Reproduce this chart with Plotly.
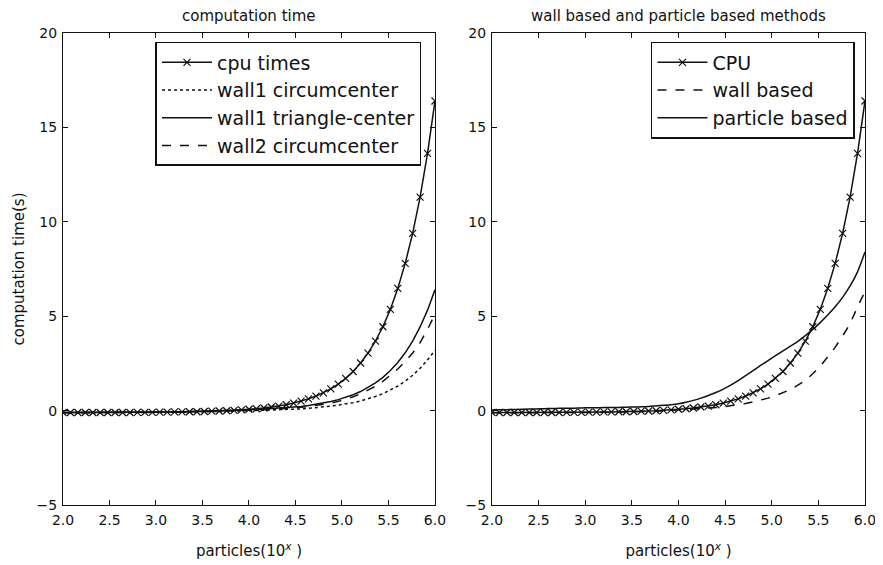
import plotly.graph_objects as go

# x axis: particles (10^x)
particles_exp = [2.00, 2.08, 2.16, 2.24, 2.32, 2.40, 2.48, 2.56, 2.64, 2.72, 2.80,
                 2.88, 2.96, 3.04, 3.12, 3.20, 3.28, 3.36, 3.44, 3.52,
                 3.60, 3.68, 3.76, 3.84, 3.92, 4.00, 4.08, 4.16, 4.24, 4.32,
                 4.40, 4.48, 4.56, 4.64, 4.72, 4.80, 4.88, 4.96, 5.04, 5.12,
                 5.20, 5.28, 5.36, 5.44, 5.52, 5.60, 5.68, 5.76, 5.84, 5.92, 6.00]

cpu_times = [-0.10, -0.10, -0.10, -0.10, -0.10, -0.10, -0.10, -0.10, -0.10, -0.10, -0.09,
             -0.09, -0.09, -0.08, -0.08, -0.07, -0.07, -0.06, -0.06, -0.05,
             -0.03, -0.02, -0.01, 0.01, 0.04, 0.07, 0.10, 0.14, 0.19, 0.24,
             0.31, 0.40, 0.50, 0.62, 0.77, 0.94, 1.15, 1.40, 1.71, 2.07,
             2.52, 3.04, 3.68, 4.44, 5.36, 6.47, 7.80, 9.39, 11.31, 13.62, 16.40]

wall1_circumcenter = [-0.12, -0.12, -0.12, -0.12, -0.12, -0.11, -0.11, -0.11, -0.11, -0.10, -0.10,
                      -0.10, -0.09, -0.09, -0.09, -0.08, -0.08, -0.07, -0.07, -0.06,
                      -0.06, -0.05, -0.04, -0.03, -0.02, -0.01, 0.00, 0.01, 0.02, 0.03,
                      0.05, 0.07, 0.09, 0.12, 0.15, 0.19, 0.24, 0.29, 0.35, 0.42,
                      0.51, 0.62, 0.75, 0.90, 1.08, 1.30, 1.56, 1.87, 2.24, 2.68, 3.20]

wall1_triangle_center = [-0.10, -0.10, -0.10, -0.10, -0.10, -0.10, -0.10, -0.10, -0.10, -0.09, -0.09,
                         -0.09, -0.08, -0.08, -0.07, -0.07, -0.06, -0.05, -0.05, -0.04,
                         -0.03, -0.02, -0.01, 0.00, 0.02, 0.04, 0.06, 0.08, 0.10, 0.12,
                         0.15, 0.18, 0.22, 0.27, 0.33, 0.40, 0.48, 0.58, 0.70, 0.84,
                         1.01, 1.22, 1.47, 1.76, 2.12, 2.55, 3.06, 3.68, 4.43, 5.32, 6.40]

wall2_circumcenter = [-0.11, -0.11, -0.11, -0.11, -0.11, -0.10, -0.10, -0.10, -0.10, -0.10, -0.10,
                      -0.10, -0.09, -0.09, -0.08, -0.08, -0.07, -0.07, -0.06, -0.05,
                      -0.04, -0.03, -0.02, -0.01, 0.00, 0.02, 0.03, 0.05, 0.07, 0.09,
                      0.11, 0.14, 0.18, 0.22, 0.27, 0.33, 0.40, 0.49, 0.60, 0.73,
                      0.89, 1.07, 1.29, 1.55, 1.85, 2.20, 2.60, 3.05, 3.60, 4.30, 5.10]

wall_based = [-0.12, -0.12, -0.12, -0.12, -0.12, -0.12, -0.11, -0.11, -0.11, -0.11, -0.11,
              -0.11, -0.10, -0.10, -0.10, -0.09, -0.09, -0.08, -0.08, -0.07,
              -0.05, -0.04, -0.03, -0.01, 0.01, 0.03, 0.05, 0.07, 0.09, 0.12,
              0.16, 0.20, 0.25, 0.31, 0.38, 0.46, 0.55, 0.66, 0.79, 0.94,
              1.11, 1.35, 1.60, 1.95, 2.34, 2.85, 3.35, 3.95, 4.60, 5.50, 6.30]

particle_based = [0.03, 0.04, 0.05, 0.06, 0.07, 0.08, 0.09, 0.10, 0.11, 0.12, 0.13,
                  0.13, 0.14, 0.15, 0.15, 0.16, 0.16, 0.17, 0.18, 0.19,
                  0.20, 0.22, 0.25, 0.28, 0.31, 0.36, 0.44, 0.54, 0.66, 0.80,
                  0.96, 1.14, 1.35, 1.59, 1.85, 2.12, 2.39, 2.65, 2.91, 3.16,
                  3.41, 3.67, 3.97, 4.30, 4.66, 5.06, 5.50, 6.00, 6.60, 7.35, 8.40]

x_ticks = [2.0, 2.5, 3.0, 3.5, 4.0, 4.5, 5.0, 5.5, 6.0]
x_ticktext = ["2.0", "2.5", "3.0", "3.5", "4.0", "4.5", "5.0", "5.5", "6.0"]
y_ticks = [-5, 0, 5, 10, 15, 20]

FONT = "DejaVu Sans"
INK = "#111111"

fig = go.Figure()

cpu_marker = dict(symbol="x-thin", size=7, line=dict(width=1.2, color=INK), color=INK)

# left panel
fig.add_trace(go.Scatter(x=particles_exp, y=cpu_times, mode="lines+markers", name="cpu times",
                         line=dict(color=INK, width=1.5), marker=cpu_marker,
                         xaxis="x", yaxis="y", legend="legend", legendgroup="a1"))
fig.add_trace(go.Scatter(x=particles_exp, y=wall1_circumcenter, mode="lines", name="wall1 circumcenter",
                         line=dict(color=INK, width=1.5, dash="dot"),
                         xaxis="x", yaxis="y", legend="legend", legendgroup="a2"))
fig.add_trace(go.Scatter(x=particles_exp, y=wall1_triangle_center, mode="lines", name="wall1 triangle-center",
                         line=dict(color=INK, width=1.5),
                         xaxis="x", yaxis="y", legend="legend", legendgroup="a3"))
fig.add_trace(go.Scatter(x=particles_exp, y=wall2_circumcenter, mode="lines", name="wall2 circumcenter",
                         line=dict(color=INK, width=1.5, dash="dash"),
                         xaxis="x", yaxis="y", legend="legend", legendgroup="a4"))

# right panel
fig.add_trace(go.Scatter(x=particles_exp, y=cpu_times, mode="lines+markers", name="CPU",
                         line=dict(color=INK, width=1.5), marker=cpu_marker,
                         xaxis="x2", yaxis="y2", legend="legend2", legendgroup="b1"))
fig.add_trace(go.Scatter(x=particles_exp, y=wall_based, mode="lines", name="wall based",
                         line=dict(color=INK, width=1.5, dash="dash"),
                         xaxis="x2", yaxis="y2", legend="legend2", legendgroup="b2"))
fig.add_trace(go.Scatter(x=particles_exp, y=particle_based, mode="lines", name="particle based",
                         line=dict(color=INK, width=1.5, shape="spline", smoothing=0.6),
                         xaxis="x2", yaxis="y2", legend="legend2", legendgroup="b3"))

axis_common = dict(showline=True, linecolor=INK, linewidth=1.2, mirror="allticks",
                   ticks="inside", ticklen=5, tickwidth=1, tickcolor=INK,
                   showgrid=False, zeroline=False, automargin=False,
                   tickfont=dict(family=FONT, size=14, color=INK))

L0, L1 = 0.0, 0.4638
R0, R1 = 0.5349, 1.0

xtitle = dict(text="particles(10<sup><i>x</i></sup> )", font=dict(family=FONT, size=15, color=INK), standoff=18)

legend_common = dict(y=0.981, xanchor="right", yanchor="top",
                     bgcolor="white", bordercolor=INK, borderwidth=1.5,
                     font=dict(family=FONT, size=19, color=INK),
                     traceorder="grouped", tracegroupgap=0, itemwidth=50)

# the page body adds an 8px margin, so the figure is sized 8px smaller than the window
fig.update_layout(
    width=875, height=557,
    margin=dict(l=55, r=18, t=25, b=60, autoexpand=False),
    paper_bgcolor="white", plot_bgcolor="white",
    xaxis=dict(domain=[L0, L1], range=[2, 6], tickvals=x_ticks, ticktext=x_ticktext,
               anchor="y", title=xtitle, ticklabelstandoff=2, **axis_common),
    yaxis=dict(domain=[0, 1], range=[-5, 20], tickvals=y_ticks, anchor="x",
               ticklabelstandoff=2,
               title=dict(text="computation time(s)", font=dict(family=FONT, size=15, color=INK), standoff=8),
               **axis_common),
    xaxis2=dict(domain=[R0, R1], range=[2, 6], tickvals=x_ticks, ticktext=x_ticktext,
                anchor="y2", title=xtitle, ticklabelstandoff=2, **axis_common),
    yaxis2=dict(domain=[0, 1], range=[-5, 20], tickvals=y_ticks, anchor="x2",
                ticklabelstandoff=2, **axis_common),
    legend=dict(x=0.447, **legend_common),
    legend2=dict(x=0.9875, **legend_common),
    annotations=[
        dict(text="computation time", x=(L0 + L1) / 2, y=1.0, xref="paper", yref="paper",
             xanchor="center", yanchor="bottom", yshift=6, showarrow=False,
             font=dict(family=FONT, size=15, color=INK)),
        dict(text="wall based and particle based methods", x=(R0 + R1) / 2, y=1.0, xref="paper", yref="paper",
             xanchor="center", yanchor="bottom", yshift=6, showarrow=False,
             font=dict(family=FONT, size=15, color=INK)),
    ],
)

fig.write_html("out.html")
